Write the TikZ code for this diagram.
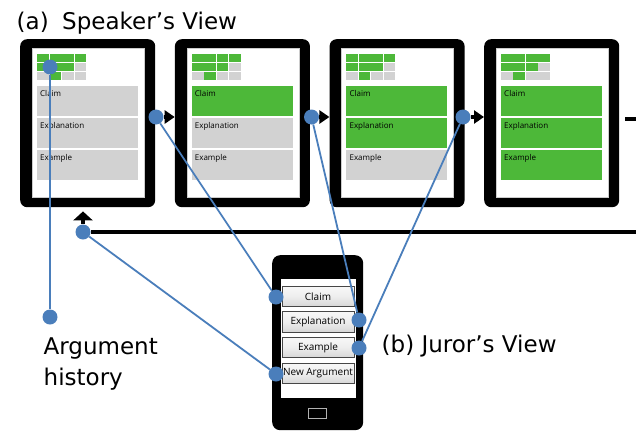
\documentclass[tikz,border=0pt]{standalone}
\usepackage{fontspec}
\setmainfont{DejaVu Sans}
\newfontfamily\uifont{Open Sans}
\usetikzlibrary{arrows.meta}
\definecolor{gr}{RGB}{77,184,57}
\definecolor{lg}{RGB}{210,210,210}
\definecolor{bl}{RGB}{74,126,187}
\tikzset{
 tabframe/.style={fill=black, rounded corners=7pt, minimum width=135pt, minimum height=168pt, inner sep=0pt, anchor=north west},
 tabscreen/.style={fill=white, draw=gray!40, line width=0.5pt, minimum width=112pt, minimum height=149.5pt, inner sep=0pt, anchor=north west},
 blocktext/.style={font=\uifont\fontsize{8}{9.5}\selectfont, inner sep=0pt, anchor=north west},
 dot/.style={circle, fill=bl, minimum size=15pt, inner sep=0pt},
 link/.style={draw=bl, line width=1.8pt},
 blk/.style={line width=4pt},
 btn/.style={draw=gray!55!black, line width=0.6pt, top color=gray!6, bottom color=gray!32, middle color=gray!14, minimum width=72pt, minimum height=20.5pt, inner sep=0pt, font=\uifont\fontsize{10}{12}\selectfont},
 big/.style={font=\fontsize{23}{31}\selectfont, inner sep=0pt}
}
\newcommand\gc[4]{\fill[#4] (#1,#2) rectangle ++(#3,8);}
\newcommand\tabletbox[6]{%
\begin{scope}[shift={(#2,39)}]
 \node[tabframe] (#1) at (0,0) {};
 \node[tabscreen] (#1s) at (12,8.5) {};
 \fill[#3] (17,47) rectangle ++(101,29.5);
 \fill[#4] (17,79) rectangle ++(101,29.5);
 \fill[#5] (17,111) rectangle ++(101,29.5);
 \node[blocktext] (#1c) at (20,51) {Claim};
 \node[blocktext] (#1e) at (20,83) {Explanation};
 \node[blocktext] (#1x) at (20,115) {Example};
 \begin{scope}[shift={(17,14.5)}] #6 \end{scope}
\end{scope}}
\begin{document}
\begin{tikzpicture}[x=1pt,y=-1pt]
\useasboundingbox (0,0) rectangle (636,431);
\fill[white] (0,0) rectangle (636,431);
% tablets
\tabletbox{t1}{20}{lg}{lg}{lg}{%
 \gc{0}{0}{11.5}{gr}\gc{12.5}{0}{24}{gr}\gc{37.5}{0}{11.5}{gr}
 \gc{0}{9}{11.5}{gr}\gc{12.5}{9}{24}{gr}\gc{37.5}{9}{11.5}{lg}
 \gc{0}{18}{11.5}{lg}\gc{12.5}{18}{11.5}{gr}\gc{25}{18}{11.5}{lg}\gc{37.5}{18}{11.5}{lg}}
\tabletbox{t2}{174.7}{gr}{lg}{lg}{%
 \gc{0}{0}{24}{gr}\gc{25}{0}{11.5}{gr}\gc{37.5}{0}{11.5}{gr}
 \gc{0}{9}{24}{gr}\gc{25}{9}{11.5}{gr}\gc{37.5}{9}{11.5}{lg}
 \gc{0}{18}{12}{lg}\gc{12}{18}{12}{gr}\gc{25}{18}{11.5}{lg}\gc{37.5}{18}{11.5}{lg}}
\tabletbox{t3}{329.4}{gr}{gr}{lg}{%
 \gc{0}{0}{11.5}{gr}\gc{12.5}{0}{24}{gr}\gc{37.5}{0}{11.5}{gr}
 \gc{0}{9}{11.5}{gr}\gc{12.5}{9}{24}{gr}\gc{37.5}{9}{11.5}{lg}
 \gc{0}{18}{11.5}{lg}\gc{12.5}{18}{11.5}{gr}\gc{25}{18}{11.5}{lg}\gc{37.5}{18}{11.5}{lg}}
\tabletbox{t4}{484}{gr}{gr}{gr}{%
 \gc{0}{0}{24}{gr}\gc{25}{0}{24}{gr}
 \gc{0}{9}{24}{gr}\gc{25}{9}{12}{gr}\gc{37}{9}{12}{lg}
 \gc{0}{18}{12}{lg}\gc{12}{18}{12}{gr}\gc{25}{18}{24}{lg}}
% phone
\node[fill=black, rounded corners=8pt, minimum width=91pt, minimum height=175pt, inner sep=0pt, anchor=north west] (ph) at (272,255) {};
\node[fill=white, minimum width=75pt, minimum height=119pt, inner sep=0pt, anchor=north west] (phs) at (281,279) {};
\node[draw=gray!60, line width=0.8pt, minimum width=18pt, minimum height=10pt, inner sep=0pt] (home) at (317,413) {};
\node[btn] (bC) at (318,296.5) {Claim};
\node[btn] (bE) at (318,322) {Explanation};
\node[btn] (bX) at (318,347.5) {Example};
\node[btn] (bN) at (318,373.5) {New Argument};
% texts
\node[big, anchor=base west] (ta) at (16.5,29) {(a)\hspace{13.5pt}Speaker’s View};
\node[big, anchor=base west] (h1) at (43.5,354) {Argument};
\node[big, anchor=base west] (h2) at (43.5,385) {history};
\node[big, anchor=base west] (tj) at (381.5,352) {(b) Juror’s View};
% dots
\node[dot] (gA) at (50,67) {};
\node[dot] (hB) at (50,317) {};
\node[dot] (d1) at (156,117) {};
\node[dot] (d2) at (311.5,117) {};
\node[dot] (d3) at (463,117) {};
\node[dot] (dH) at (83,232) {};
\node[dot] (pC) at (276,297) {};
\node[dot] (pE) at (359,320) {};
\node[dot] (pX) at (359,348) {};
\node[dot] (pN) at (276,374) {};
% black flow arrows
\draw[blk,-{Triangle[length=10pt,width=13pt]}] (d1) -- (d1 -| t2.west);
\draw[blk,-{Triangle[length=10pt,width=13pt]}] (d2) -- (d2 -| t3.west);
\draw[blk,-{Triangle[length=10pt,width=13pt]}] (d3) -- (d3 -| t4.west);
\coordinate (eR) at (636,119);
\draw[blk, shorten >=6pt] (eR) -- (eR -| t4.east);
\coordinate (bR) at (636,232);
\draw[blk] (bR) -- (dH);
\draw[blk, shorten >=4pt, -{Triangle[length=9pt,width=19pt]}] (dH) -- (dH |- t1.south);
% blue links
\draw[link] (gA) -- (hB);
\draw[link] (d1) -- (pC);
\draw[link] (d2) -- (pE);
\draw[link] (d3) -- (pX);
\draw[link] (dH) -- (pN);
\end{tikzpicture}
\end{document}
